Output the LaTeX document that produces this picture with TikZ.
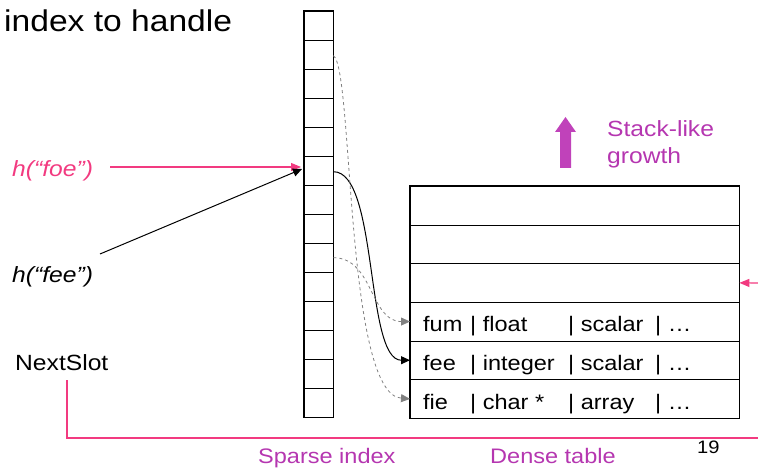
\documentclass[tikz,border=0pt]{standalone}
\usepackage{fontspec}
\setmainfont[FakeStretch=1.12]{Liberation Sans}
\usetikzlibrary{arrows.meta,calc}
\definecolor{hotpink}{HTML}{F23A80}
\definecolor{magtext}{HTML}{B536B0}
\definecolor{magfill}{HTML}{C042BA}
\definecolor{dashgray}{HTML}{808080}
\begin{document}
\begin{tikzpicture}[x=1pt,y=-1pt,
  cell/.style={minimum width=29pt,minimum height=29pt,inner sep=0pt,anchor=north west},
  rowbox/.style={minimum width=329pt,minimum height=38.67pt,inner sep=0pt,anchor=north west},
  gridline/.style={line width=1.1pt},
  lbl/.style={inner sep=0pt,anchor=base west,font=\fontsize{22}{26}\selectfont},
  rowtxt/.style={inner sep=0pt,anchor=base west,font=\fontsize{21}{25}\selectfont},
  dashlink/.style={dashed,dashgray,line width=0.8pt,-{Triangle[length=9pt,width=8pt]}},
  solidlink/.style={black,line width=1pt,-{Triangle[length=9pt,width=8pt]}},
  pinklink/.style={hotpink,line width=1.1pt,-{Triangle[length=10pt,width=8pt]}}
]
\useasboundingbox (0,0) rectangle (758,468);

% title
\node[inner sep=0pt,anchor=base west,font=\fontsize{30}{34}\selectfont] (title) at (4,32) {index to handle};

% sparse index
\foreach \i in {1,...,14}{
  \node[cell] (s\i) at (304,{11+(\i-1)*29}) {};
}
\draw[gridline] (s1.north west) rectangle (s14.south east);
\foreach \i in {1,...,13}{
  \draw[gridline] (s\i.south west) -- (s\i.south east);
}

% dense table
\foreach \i in {1,...,6}{
  \node[rowbox] (r\i) at (410,{186+(\i-1)*38.67}) {};
}
\draw[gridline] (r1.north west) rectangle (r6.south east);
\foreach \i in {1,...,5}{
  \draw[gridline] (r\i.south west) -- (r\i.south east);
}
\newcommand\rowline[3]{\makebox[47pt][l]{#1}\makebox[98pt][l]{| #2}\makebox[87pt][l]{| #3}| …}
\node[rowtxt] (t4) at (423,331) {\rowline{fum}{float}{scalar}};
\node[rowtxt] (t5) at (423,370) {\rowline{fee}{integer}{scalar}};
\node[rowtxt] (t6) at (423,409) {\rowline{fie}{char *}{array}};

% labels
\node[lbl,hotpink,font=\fontsize{22}{26}\selectfont\itshape] (foe) at (12,176) {h(“foe”)};
\node[lbl,font=\fontsize{22}{26}\selectfont\itshape] (fee) at (12,282) {h(“fee”)};
\node[lbl] (next) at (15,370) {NextSlot};
\node[lbl,magtext] (stack) at (607,137) {Stack-like};
\node[lbl,magtext] (growth) at (607,164) {growth};
\node[lbl,magtext,font=\fontsize{21}{25}\selectfont] (sparse) at (258,463) {Sparse index};
\node[lbl,magtext,font=\fontsize{21}{25}\selectfont] (dense) at (490,463) {Dense table};
\node[inner sep=0pt,anchor=base west,font=\fontsize{18}{22}\selectfont] (pagenum) at (697,453) {19};

% growth arrow
\fill[magfill] (560,168) -- (571,168) -- (571,132) -- (576,132) -- (565.5,117) -- (555,132) -- (560,132) -- cycle;

% connectors
\coordinate (foeend) at (301,167);
\draw[pinklink] (110,167) coordinate (foestart) -- (foeend);
\draw[solidlink] (100,254) coordinate (feestart) -- (302,169) coordinate (feeend);
\draw[solidlink] ($(s6.east)+(0,1)$) .. controls +(45,0) and +(-45,0) .. (r5.west);
\draw[dashlink] ($(s2.east)+(0,1)$) .. controls +(20,12) and +(-65,-5) .. (r6.west);
\draw[dashlink] (s9.east) .. controls +(40,0) and +(-40,0) .. (r4.west);

% NextSlot pink line
\coordinate (lineend) at (758,438);
\draw[hotpink,line width=1.1pt] (67,380) -- (67,438) -- (lineend);
\coordinate (rightin) at (758,283);
\draw[pinklink] (rightin) -- (r3.east);
\end{tikzpicture}
\end{document}
